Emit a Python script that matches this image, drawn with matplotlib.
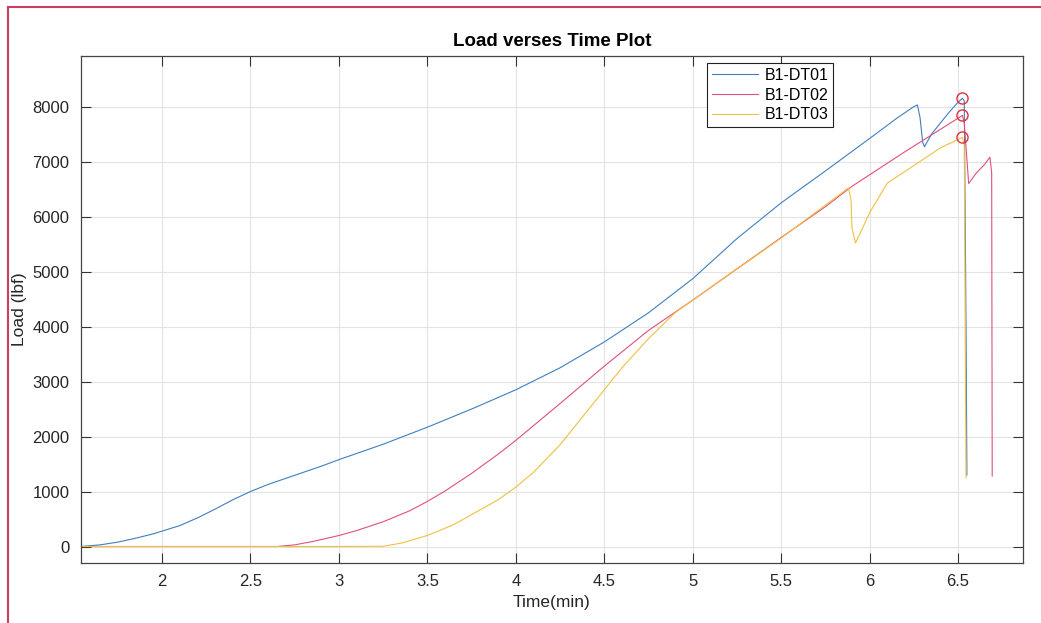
import matplotlib
matplotlib.use('Agg')
import matplotlib.pyplot as plt
from matplotlib.lines import Line2D

plt.rcParams['font.family'] = ['Liberation Sans', 'DejaVu Sans']

# B1-DT01
time1 = [1.54, 1.65, 1.75, 1.85, 1.95, 2.0, 2.1, 2.2, 2.3, 2.4, 2.5, 2.6, 2.7, 2.8, 2.9, 3.0,
         3.25, 3.5, 3.75, 4.0, 4.25, 4.5, 4.75, 5.0, 5.25, 5.5, 5.75, 6.0, 6.15, 6.25, 6.27,
         6.285, 6.30, 6.31, 6.35, 6.45, 6.5, 6.525, 6.535, 6.545, 6.55]
load1 = [0, 30, 80, 150, 230, 280, 380, 520, 680, 850, 1000, 1130, 1240, 1350, 1460, 1580,
         1860, 2170, 2500, 2850, 3250, 3720, 4250, 4870, 5600, 6250, 6830, 7420, 7780, 8000, 8030,
         7800, 7350, 7270, 7500, 7900, 8080, 8150, 8100, 4000, 1300]

# B1-DT02
time2 = [1.54, 2.0, 2.5, 2.65, 2.75, 2.85, 3.0, 3.1, 3.25, 3.4, 3.5, 3.6, 3.75, 3.9, 4.0,
         4.25, 4.5, 4.75, 5.0, 5.25, 5.5, 5.75, 5.9, 6.2, 6.525, 6.535, 6.56, 6.6, 6.65, 6.68,
         6.69, 6.693]
load2 = [0, 0, 0, 0, 30, 90, 200, 290, 450, 650, 820, 1010, 1330, 1680, 1930,
         2600, 3280, 3930, 4480, 5050, 5620, 6180, 6550, 7180, 7840, 7700, 6600, 6780, 6950, 7080,
         6800, 1280]

# B1-DT03
time3 = [1.54, 3.0, 3.25, 3.35, 3.5, 3.65, 3.75, 3.9, 4.0, 4.1, 4.25, 4.4, 4.5, 4.6, 4.75,
         4.9, 5.0, 5.5, 5.88, 5.895, 5.90, 5.92, 5.95, 6.0, 6.1, 6.27, 6.4, 6.525, 6.535, 6.545]
load3 = [0, 0, 5, 60, 200, 400, 580, 850, 1080, 1350, 1850, 2450, 2850, 3250, 3780,
         4250, 4480, 5610, 6520, 6300, 5800, 5520, 5720, 6070, 6610, 6970, 7250, 7440, 7300, 1250]

# peak loads (circled)
peak_time = [6.525, 6.525, 6.525]
peak_load = [8150, 7840, 7440]

labels = ['B1-DT01', 'B1-DT02', 'B1-DT03']
colors = ['#3f7fbf', '#e0507a', '#f0c040']

fig = plt.figure(figsize=(10.41, 6.23), dpi=100)
ax = fig.add_axes([0.0775, 0.0963, 0.9052, 0.8138])

ax.plot(time1, load1, color=colors[0], linewidth=0.8, label=labels[0])
ax.plot(time2, load2, color=colors[1], linewidth=0.8, label=labels[1])
ax.plot(time3, load3, color=colors[2], linewidth=0.8, label=labels[2])
ax.plot(peak_time, peak_load, 'o', markerfacecolor='none', markeredgecolor='#e0303a',
        markersize=8, markeredgewidth=1.0)

ax.set_xlim(1.54, 6.867)
ax.set_ylim(-300, 8920)
ax.set_xticks([2, 2.5, 3, 3.5, 4, 4.5, 5, 5.5, 6, 6.5])
ax.set_xticklabels(['2', '2.5', '3', '3.5', '4', '4.5', '5', '5.5', '6', '6.5'])
ax.set_yticks([0, 1000, 2000, 3000, 4000, 5000, 6000, 7000, 8000])

ax.grid(True, color='#e3e3e3', linewidth=0.8)
ax.set_axisbelow(True)
ax.tick_params(direction='in', length=7, width=0.8, color='#333333', labelcolor='#262626',
               labelsize=12, top=True, right=True, pad=8)
for s in ax.spines.values():
    s.set_color('#444444')
    s.set_linewidth(0.9)

ax.set_title('Load verses Time Plot', fontsize=13.5, fontweight='bold', pad=7)
ax.set_xlabel('Time(min)', fontsize=12.5, color='#262626', labelpad=4)
ax.set_ylabel('Load (lbf)', fontsize=12.5, color='#262626', labelpad=4)

leg = ax.legend(loc='upper left', bbox_to_anchor=(0.6647, 0.986), borderaxespad=0,
                fontsize=11.5, fancybox=False, framealpha=1, edgecolor='#222222',
                handlelength=2.9, handletextpad=0.4, labelspacing=0.3, borderpad=0.3)
leg.get_frame().set_linewidth(0.8)

# red frame around the figure (top and left)
fig.add_artist(Line2D([8 / 1041, 1], [1 - 7 / 623, 1 - 7 / 623], transform=fig.transFigure,
                      color='#c8405e', linewidth=1.5))
fig.add_artist(Line2D([8 / 1041, 8 / 1041], [0, 1 - 7 / 623], transform=fig.transFigure,
                      color='#c8405e', linewidth=1.5))

fig.savefig('out.png', dpi=100)
